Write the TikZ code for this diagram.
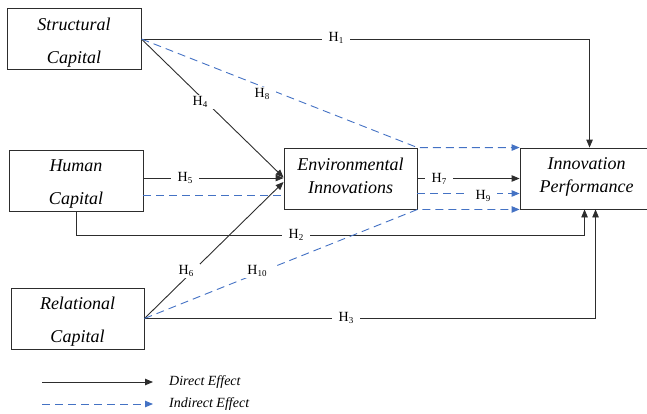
\documentclass[tikz,border=0pt]{standalone}
\usepackage{fontspec}
\setmainfont{Liberation Serif}
\usepackage{tikz}
\usetikzlibrary{arrows.meta,calc}
\definecolor{linegray}{RGB}{45,45,45}
\definecolor{officeblue}{RGB}{68,114,196}
\tikzset{
  construct/.style={draw=linegray,line width=0.9pt,minimum width=134pt,minimum height=61pt,inner sep=0pt,align=center,font=\fontsize{18}{23}\selectfont\itshape},
  capital/.style={construct},
  outcome/.style={construct,minimum width=133pt,execute at end node={\rule[-6pt]{0pt}{6pt}}},
  direct/.style={-{Triangle[length=8pt,width=6.5pt]},line width=0.9pt,draw=linegray},
  indirect/.style={-{Triangle[length=8pt,width=6.5pt]},line width=0.9pt,draw=officeblue,dash pattern=on 8pt off 5pt},
  hyplabel/.style={fill=white,inner xsep=7pt,inner ysep=2pt,font=\fontsize{14}{14}\selectfont}
}
\newcommand{\hname}[1]{H\raisebox{-1.5pt}{\fontsize{9}{9}\selectfont #1}}
\newcommand{\topstrut}{\rule{0pt}{19pt}}

\begin{document}
\begin{tikzpicture}[
  x=1pt,y=-1pt,
  legendtext/.style={anchor=west,inner sep=0pt,font=\fontsize{14}{14}\selectfont\itshape}
]
  \useasboundingbox (0,0) rectangle (647,413);

  \node[capital] (sc) at (74,39) {\topstrut Structural\\[10pt]Capital};
  \node[capital] (hc) at (76,180.5) {\topstrut Human\\[10pt]Capital};
  \node[capital,minimum width=133pt] (rc) at (77.5,318.5) {\topstrut Relational\\[10pt]Capital};
  \node[outcome] (ei) at (350.5,178.5) {Environmental\\Innovations};
  \node[outcome] (ip) at (586.5,178.5) {Innovation\\Performance};

  \coordinate (hcH5) at ([yshift=2.5pt]hc.east);
  \coordinate (hcH9) at ([yshift=-15pt]hc.east);

  % direct effects
  \draw[direct] (sc.east) -| ([xshift=70pt]ip.north west);
  \draw[direct] (sc.east) -- ([yshift=1pt]ei.west);
  \draw[direct] (hcH5) -- (hcH5 -| ei.west);
  \draw[direct] (rc.east) -- ([yshift=-3.5pt]ei.west);
  \draw[direct] (ei.east) -- (ip.west);
  \draw[direct] (hc.south) -- ++(0,24) -| ([xshift=65pt]ip.south west);
  \draw[direct] (rc.east) -| ([xshift=76pt]ip.south west);

  % indirect effects
  \draw[indirect] (sc.east) -- (ei.north east) -- (ip.north west);
  \draw[indirect,-] (hcH9) -- (hcH9 -| ei.west);
  \draw[indirect] ([yshift=-15pt]ei.east) -- ([yshift=-15pt]ip.west);
  \draw[indirect] (rc.east) -- (ei.south east) -- (ip.south west);

  \node[hyplabel] (h1) at (336,38) {\hname{1}};
  \node[hyplabel] (h2) at (296,235) {\hname{2}};
  \node[hyplabel] (h3) at (346,318) {\hname{3}};
  \node[hyplabel] (h4) at (200,102) {\hname{4}};
  \node[hyplabel] (h5) at (185,178) {\hname{5}};
  \node[hyplabel] (h6) at (186,271) {\hname{6}};
  \node[hyplabel] (h7) at (439,179) {\hname{7}};
  \node[hyplabel] (h8) at (262,94) {\hname{8}};
  \node[hyplabel] (h9) at (483,196) {\hname{9}};
  \node[hyplabel] (h10) at (257,271) {\hname{10}};

  % legend
  \coordinate (legD1) at (42,382);
  \coordinate (legD2) at (153,382);
  \coordinate (legI1) at (42,404);
  \coordinate (legI2) at (153,404);
  \draw[direct] (legD1) -- (legD2);
  \draw[indirect] (legI1) -- (legI2);
  \node[legendtext] (legDtext) at (169,382) {Direct Effect};
  \node[legendtext] (legItext) at (169,404) {Indirect Effect};

\end{tikzpicture}
\end{document}
